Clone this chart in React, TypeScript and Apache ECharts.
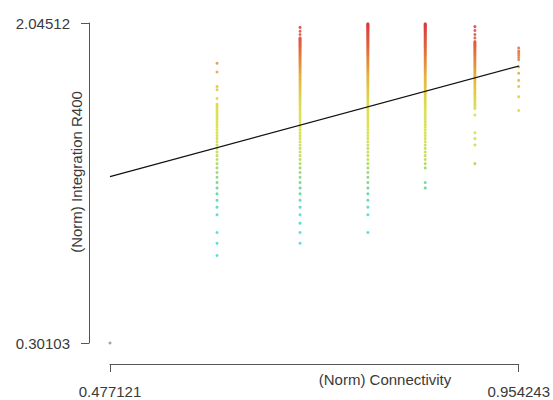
import React, { useEffect, useRef } from "react";
import * as echarts from "echarts";

// Connectivity levels (raw); x = log10(connectivity)
const connectivityLevels = [3, 4, 5, 6, 7, 8, 9];

// Integration R400 (raw) values present at each connectivity level; y = log10(value)
const integrationC3 = [2];
const integrationC4 = [6, 7, 8, 10, 11, 12, 13, 14, 15, 16, 17, 18, 19, 20, 21, 22, 23, 24, 25, 26, 27, 28, 29, 30, 31, 32, 33, 34, 35, 36, 37, 38, 39, 40, 43, 48, 50, 60, 67];
const integrationC5 = [7, 8, 9, 10, 11, 12, 13, 14, 15, 16, 17, 18, 19, 20, 21, 22, 23, 24, 25, 26, 27, 28, 29, 30, 31, 32, 33, 34, 35, 36, 37, 38, 39, 40, 41, 42, 43, 44, 45, 46, 47, 48, 49, 50, 51, 52, 53, 54, 55, 56, 57, 58, 59, 60, 61, 62, 63, 64, 65, 66, 67, 68, 69, 70, 71, 72, 73, 74, 75, 76, 77, 78, 79, 80, 81, 82, 83, 84, 85, 86, 87, 88, 89, 90, 91, 92, 96, 100, 105];
const integrationC6 = [8, 10, 11, 12, 13, 14, 15, 16, 17, 18, 19, 20, 21, 22, 23, 24, 25, 26, 27, 28, 29, 30, 31, 32, 33, 34, 35, 36, 37, 38, 39, 40, 41, 42, 43, 44, 45, 46, 47, 48, 49, 50, 51, 52, 53, 54, 55, 56, 57, 58, 59, 60, 61, 62, 63, 64, 65, 66, 67, 68, 69, 70, 71, 72, 73, 74, 75, 76, 77, 78, 79, 80, 81, 82, 83, 84, 85, 86, 87, 88, 89, 90, 91, 92, 93, 94, 95, 96, 97, 98, 99, 100, 101, 102, 103, 104, 105, 106, 107, 108, 109, 110];
const integrationC7 = [14, 15, 18, 19, 20, 21, 22, 23, 24, 25, 26, 27, 28, 29, 30, 31, 32, 33, 34, 35, 36, 37, 38, 39, 40, 41, 42, 43, 44, 45, 46, 47, 48, 49, 50, 51, 52, 53, 54, 55, 56, 57, 58, 59, 60, 61, 62, 63, 64, 65, 66, 67, 68, 69, 70, 71, 72, 73, 74, 75, 76, 77, 78, 79, 80, 81, 82, 83, 84, 85, 86, 87, 88, 89, 90, 91, 92, 93, 94, 95, 96, 97, 98, 99, 100, 101, 102, 103, 104, 105, 106, 107, 108, 109, 110];
const integrationC8 = [19, 24, 26, 28, 35, 38, 39, 40, 41, 42, 43, 44, 45, 46, 47, 48, 49, 50, 51, 52, 53, 54, 55, 56, 57, 58, 59, 60, 61, 62, 63, 64, 65, 66, 67, 68, 69, 70, 71, 72, 73, 74, 75, 76, 77, 78, 79, 80, 81, 82, 83, 84, 85, 86, 87, 88, 92, 96, 101, 106];
const integrationC9 = [37, 44, 50, 54, 59, 64, 70, 72, 74, 76, 78, 81];

const integrationByLevel = [integrationC3, integrationC4, integrationC5, integrationC6, integrationC7, integrationC8, integrationC9];

// Axis extents and tick labels
const xTickValues = [0.477121, 0.954243];
const xTickLabels = ["0.477121", "0.954243"];
const yTickValues = [0.30103, 2.04512];
const yTickLabels = ["0.30103", "2.04512"];

// Fitted regression line end points
const regressionX = [0.477121, 0.954243];
const regressionY = [1.2084, 1.8106];

const xTitle = "(Norm) Connectivity";
const yTitle = "(Norm) Integration R400";

const heatColors = ["#3fd8d8", "#5ccf8a", "#b5d84a", "#d6de3c", "#d9d83a", "#e6b235", "#e26a3a", "#dc3440"];

const FONT = "'Liberation Sans', Arial, sans-serif";
const TEXT = "#3a3a3a";
const AXIS = "#555555";

export default function App() {
  const ref = useRef<HTMLDivElement>(null);

  useEffect(() => {
    if (!ref.current) return;
    const chart = echarts.init(ref.current, null, { renderer: "svg" });

    const isolated: number[][] = [];
    const main: number[][] = [];
    connectivityLevels.forEach((c, i) => {
      const x = Math.log10(c);
      integrationByLevel[i].forEach((n) => {
        const pt = [x, Math.log10(n)];
        if (i === 0) isolated.push(pt);
        else main.push(pt);
      });
    });

    const labelFor = (vals: number[], labels: string[]) => (v: number) => {
      const idx = vals.findIndex((t) => Math.abs(t - v) < 1e-4);
      return idx >= 0 ? labels[idx] : "";
    };

    chart.setOption({
      animation: false,
      backgroundColor: "#ffffff",
      grid: { left: 110, right: 32, top: 23, bottom: 57, containLabel: false },
      xAxis: {
        type: "value",
        min: xTickValues[0],
        max: xTickValues[1],
        offset: 21,
        axisLine: { show: true, lineStyle: { color: AXIS, width: 1 } },
        axisTick: { show: true, length: 8, customValues: xTickValues, lineStyle: { color: AXIS, width: 1 } },
        axisLabel: {
          customValues: xTickValues,
          formatter: labelFor(xTickValues, xTickLabels),
          fontSize: 15,
          fontFamily: FONT,
          color: TEXT,
          margin: 20,
          showMinLabel: true,
          showMaxLabel: true,
        },
        splitLine: { show: false },
      },
      yAxis: {
        type: "value",
        min: yTickValues[0],
        max: yTickValues[1],
        offset: 21,
        axisLine: { show: true, lineStyle: { color: AXIS, width: 1 } },
        axisTick: { show: true, length: 8, customValues: yTickValues, lineStyle: { color: AXIS, width: 1 } },
        axisLabel: {
          customValues: yTickValues,
          formatter: labelFor(yTickValues, yTickLabels),
          fontSize: 15,
          fontFamily: FONT,
          color: TEXT,
          margin: 19,
          showMinLabel: true,
          showMaxLabel: true,
        },
        splitLine: { show: false },
      },
      visualMap: {
        type: "continuous",
        show: false,
        seriesIndex: 1,
        dimension: 1,
        min: 1.0,
        max: 2.05,
        inRange: { color: heatColors },
      },
      graphic: [
        {
          type: "text",
          x: 385,
          y: 379,
          style: { text: xTitle, fontSize: 15, fontFamily: FONT, fill: TEXT, textAlign: "center", textVerticalAlign: "middle" },
        },
        {
          type: "text",
          x: 76,
          y: 172,
          rotation: Math.PI / 2,
          style: { text: yTitle, fontSize: 15, fontFamily: FONT, fill: TEXT, textAlign: "center", textVerticalAlign: "middle" },
        },
      ],
      series: [
        {
          type: "scatter",
          data: isolated,
          symbol: "circle",
          symbolSize: 3,
          itemStyle: { color: "#8c8c8c" },
          clip: false,
        },
        {
          type: "scatter",
          data: main,
          symbol: "circle",
          symbolSize: 3,
          itemStyle: { opacity: 0.85 },
          clip: false,
        },
        {
          type: "line",
          data: regressionX.map((x, i) => [x, regressionY[i]]),
          symbol: "none",
          lineStyle: { color: "#111111", width: 1.3 },
          z: 5,
          clip: false,
        },
      ],
    });

    return () => chart.dispose();
  }, []);

  return <div ref={ref} style={{ position: "fixed", left: 0, top: 0, width: 553, height: 400 }} />;
}
